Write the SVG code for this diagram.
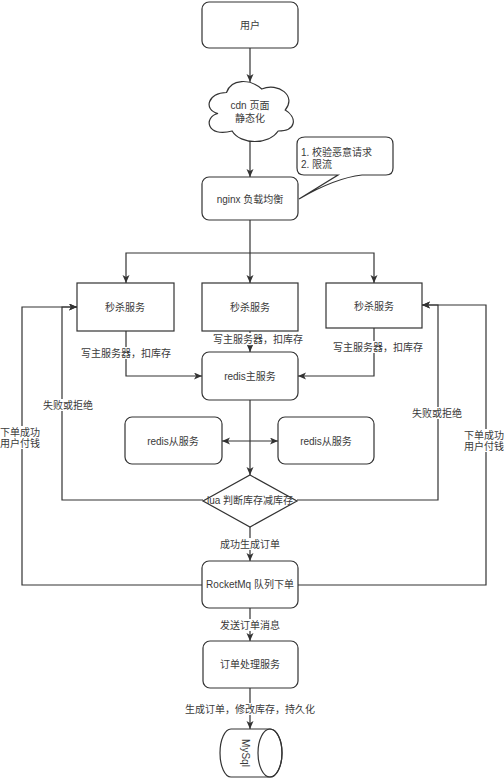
<svg xmlns="http://www.w3.org/2000/svg" width="504" height="778" viewBox="0 0 504 778">
<style>
.n{fill:#fff;stroke:#333;stroke-width:1.2}
.t{font-family:"Liberation Sans","Noto Sans CJK SC",sans-serif;font-size:10px;fill:#3a3a3a;text-anchor:middle;dominant-baseline:central}
.c{fill:none;stroke:#333;stroke-width:1.2}
.bg{fill:#fff}
</style>
<defs>
<marker id="a" markerUnits="userSpaceOnUse" markerWidth="9" markerHeight="8" refX="8" refY="3.5" orient="auto-start-reverse">
<path d="M0,0 L8,3.5 L0,7 L2,3.5 Z" fill="#333"/>
</marker>
</defs>
<rect width="504" height="778" fill="#fff"/>
<g id="connectors">
<path class="c" d="M250 48 V82" marker-end="url(#a)"/>
<path class="c" d="M250 141 V177" marker-end="url(#a)"/>
<path class="c" d="M250 220 V283" marker-end="url(#a)"/>
<path class="c" d="M250 253 H126 V283" marker-end="url(#a)"/>
<path class="c" d="M250 253 H374 V283" marker-end="url(#a)"/>
<path class="c" d="M126 331 V376 H202" marker-end="url(#a)"/>
<path class="c" d="M250 331 V352" marker-end="url(#a)"/>
<path class="c" d="M374 328 V376 H298" marker-end="url(#a)"/>
<path class="c" d="M250 400 V475" marker-end="url(#a)"/>
<path class="c" d="M222 441 H278" marker-start="url(#a)" marker-end="url(#a)"/>
<path class="c" d="M203 500 H62 V307 H77" marker-end="url(#a)"/>
<path class="c" d="M297 500 H438 V305 H422" marker-end="url(#a)"/>
<path class="c" d="M250 527 V561" marker-end="url(#a)"/>
<path class="c" d="M202 585 H22 V307 H77" marker-end="url(#a)"/>
<path class="c" d="M298 585 H486 V305 H422" marker-end="url(#a)"/>
<path class="c" d="M250 608 V641" marker-end="url(#a)"/>
<path class="c" d="M250 688 V729" marker-end="url(#a)"/>
<g id="edge-labels">
<rect class="bg" x="82" y="347" width="89" height="12"/><text class="t" x="126" y="353">写主服务器，扣库存</text>
<rect class="bg" x="214" y="333" width="89" height="12"/><text class="t" x="258" y="339">写主服务器，扣库存</text>
<rect class="bg" x="334" y="341" width="89" height="12"/><text class="t" x="378" y="347">写主服务器，扣库存</text>
<rect class="bg" x="43" y="399" width="50" height="12"/><text class="t" x="68" y="405">失败或拒绝</text>
<rect class="bg" x="412" y="407" width="50" height="12"/><text class="t" x="437" y="413">失败或拒绝</text>
<rect class="bg" x="0" y="426" width="41" height="23"/><text class="t" x="20" y="432">下单成功</text><text class="t" x="20" y="443">用户付钱</text>
<rect class="bg" x="464" y="429" width="40" height="23"/><text class="t" x="484" y="435">下单成功</text><text class="t" x="484" y="446">用户付钱</text>
<rect class="bg" x="219" y="538" width="62" height="12"/><text class="t" x="250" y="544">成功生成订单</text>
<rect class="bg" x="219" y="619" width="62" height="12"/><text class="t" x="250" y="625">发送订单消息</text>
<rect class="bg" x="184" y="703" width="132" height="12"/><text class="t" x="250" y="709">生成订单，修改库存，持久化</text>
</g>
</g>
<g id="user"><rect class="n" x="202" y="2" width="96" height="46" rx="7"/><text class="t" x="250" y="25">用户</text></g>
<g id="cdn">
<path class="n" d="M226.5 92.5 C207.7 92.5 203 110 218 113.5 C203 117 206.8 138 232.1 131 C240.6 145 268.8 145 278.2 131 C297 131 297 117 285.25 110 C297 96 278.2 82 261.75 89 C250 78.5 231.2 78.5 226.5 92.5 Z"/>
<text class="t" x="250" y="105">cdn 页面</text><text class="t" x="250" y="118">静态化</text>
</g>
<g id="callout">
<path class="n" d="M305 137 H386 Q393 137 393 144 V168 Q393 175 386 175 H362 Q335 178 299 199 L338 175 H304 Q297 175 297 168 V144 Q297 137 305 137 Z"/>
<text class="t" x="301" y="152" style="text-anchor:start">1. 校验恶意请求</text>
<text class="t" x="301" y="164" style="text-anchor:start">2. 限流</text>
</g>
<g id="nginx"><rect class="n" x="202" y="177" width="96" height="43" rx="7"/><text class="t" x="250" y="199">nginx 负载均衡</text></g>
<g id="seckill-left"><rect class="n" x="77" y="283" width="97" height="48"/><text class="t" x="125" y="307">秒杀服务</text></g>
<g id="seckill-mid"><rect class="n" x="202" y="283" width="96" height="48"/><text class="t" x="250" y="307">秒杀服务</text></g>
<g id="seckill-right"><rect class="n" x="326" y="283" width="96" height="45"/><text class="t" x="374" y="306">秒杀服务</text></g>
<g id="redis-master"><rect class="n" x="202" y="352" width="96" height="48" rx="7"/><text class="t" x="250" y="376">redis主服务</text></g>
<g id="redis-slave-left"><rect class="n" x="125" y="417" width="97" height="47" rx="7"/><text class="t" x="173" y="441">redis从服务</text></g>
<g id="redis-slave-right"><rect class="n" x="278" y="417" width="96" height="47" rx="7"/><text class="t" x="326" y="441">redis从服务</text></g>
<g id="lua"><path class="n" d="M250 475 L297 501 L250 527 L203 501 Z"/><text class="t" x="250" y="500">lua 判断库存减库存</text></g>
<g id="rocketmq"><rect class="n" x="202" y="561" width="96" height="47" rx="7"/><text class="t" x="250" y="584">RocketMq 队列下单</text></g>
<g id="order"><rect class="n" x="203" y="641" width="95" height="47" rx="7"/><text class="t" x="250" y="664">订单处理服务</text></g>
<g id="mysql">
<path class="n" d="M231 729 H270 A12 24 0 0 1 270 777 H231 A11 24 0 0 1 231 729 Z"/>
<ellipse class="n" cx="270" cy="753" rx="12" ry="24" style="fill:none"/>
<text class="t" x="0" y="0" transform="translate(245 753) rotate(90)">MySql</text>
</g>
</svg>
